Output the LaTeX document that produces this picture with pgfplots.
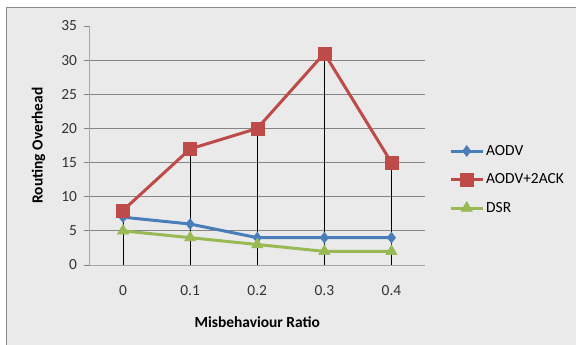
\documentclass[border=0pt]{standalone}
\usepackage{fontspec}
\setmainfont{Carlito}
\usepackage{pgfplots}
\pgfplotsset{compat=1.18}

\definecolor{bggray}{HTML}{EAEAEA}
\definecolor{framegray}{HTML}{8C8C8C}
\definecolor{gridgray}{HTML}{858585}
\definecolor{axisgray}{HTML}{A6A6A6}
\definecolor{txt}{HTML}{333333}
\definecolor{aodvblue}{HTML}{4A7EBB}
\definecolor{ackred}{HTML}{BE4B48}
\definecolor{dsrgreen}{HTML}{98B954}

\begin{document}
\begin{tikzpicture}[x=1bp,y=1bp]
\useasboundingbox (0,0) rectangle (576,344);
\fill[white] (0,0) rectangle (576,344);
\filldraw[fill=bggray, draw=framegray, line width=1bp] (6.5,-6) rectangle (584,336.5);
\begin{axis}[
  at={(89.5bp,79bp)}, anchor=south west,
  scale only axis, width=335.5bp, height=239bp,
  xmin=-0.5, xmax=4.5, ymin=0, ymax=35,
  axis x line*=bottom, axis y line*=left,
  axis line style={draw=axisgray, line width=1bp, -},
  xtick={0,1,2,3,4},
  xticklabels={0,0.1,0.2,0.3,0.4},
  xtick style={draw=none},
  ytick={0,5,...,35},
  ytick style={draw=gridgray, line width=0.8bp},
  tick align=outside, major tick length=6bp,
  extra y ticks={5,10,...,30},
  extra y tick labels={},
  extra y tick style={ymajorgrids=true, major tick length=0pt},
  grid style={draw=gridgray, line width=0.8bp},
  tick label style={font=\fontsize{15.5}{18}\selectfont, text=txt},
  /pgf/number format/assume math mode=true,
  xticklabel style={yshift=-11bp},
  yticklabel style={xshift=-3bp},
  xlabel={\textbf{Misbehaviour Ratio}},
  ylabel={\textbf{Routing Overhead}},
  label style={font=\fontsize{15.5}{18}\selectfont, text=black},
  xlabel style={at={(axis description cs:0.5,0)}, anchor=center, yshift=-57bp},
  ylabel style={at={(axis description cs:0,0.5)}, anchor=center, rotate=0, yshift=51bp},
  legend style={at={(axis description cs:1,0.5)}, anchor=west, xshift=21bp, yshift=-34bp,
    draw=none, fill=none, font=\fontsize{15.5}{18}\selectfont, text=black,
    row sep=13bp, cells={anchor=west}},
  legend image code/.code={%
    \draw[mark repeat=2, mark phase=2, #1] plot coordinates {(0bp,0bp) (16bp,0bp) (32bp,0bp)};},
  clip=false,
]
\addplot[aodvblue, line width=3bp, mark=diamond*, mark size=5.5bp,
  mark options={solid, fill=aodvblue, line width=0.5bp}]
  coordinates {(0,7) (1,6) (2,4) (3,4) (4,4)};
\addlegendentry{AODV}
\addplot[ackred, line width=3bp, mark=square*, mark size=6.5bp,
  mark options={solid, fill=ackred, line width=0.5bp}]
  coordinates {(0,8) (1,17) (2,20) (3,31) (4,15)};
\addlegendentry{AODV+2ACK}
\addplot[dsrgreen, line width=3bp, mark=triangle*, mark size=6.5bp,
  mark options={solid, fill=dsrgreen, line width=0.5bp}]
  coordinates {(0,5) (1,4) (2,3) (3,2) (4,2)};
\addlegendentry{DSR}
% drop lines from the axis up to the highest series value
\addplot[black, line width=0.8bp, ycomb, no marks, forget plot]
  coordinates {(0,8) (1,17) (2,20) (3,31) (4,15)};
\end{axis}
\end{tikzpicture}
\end{document}
